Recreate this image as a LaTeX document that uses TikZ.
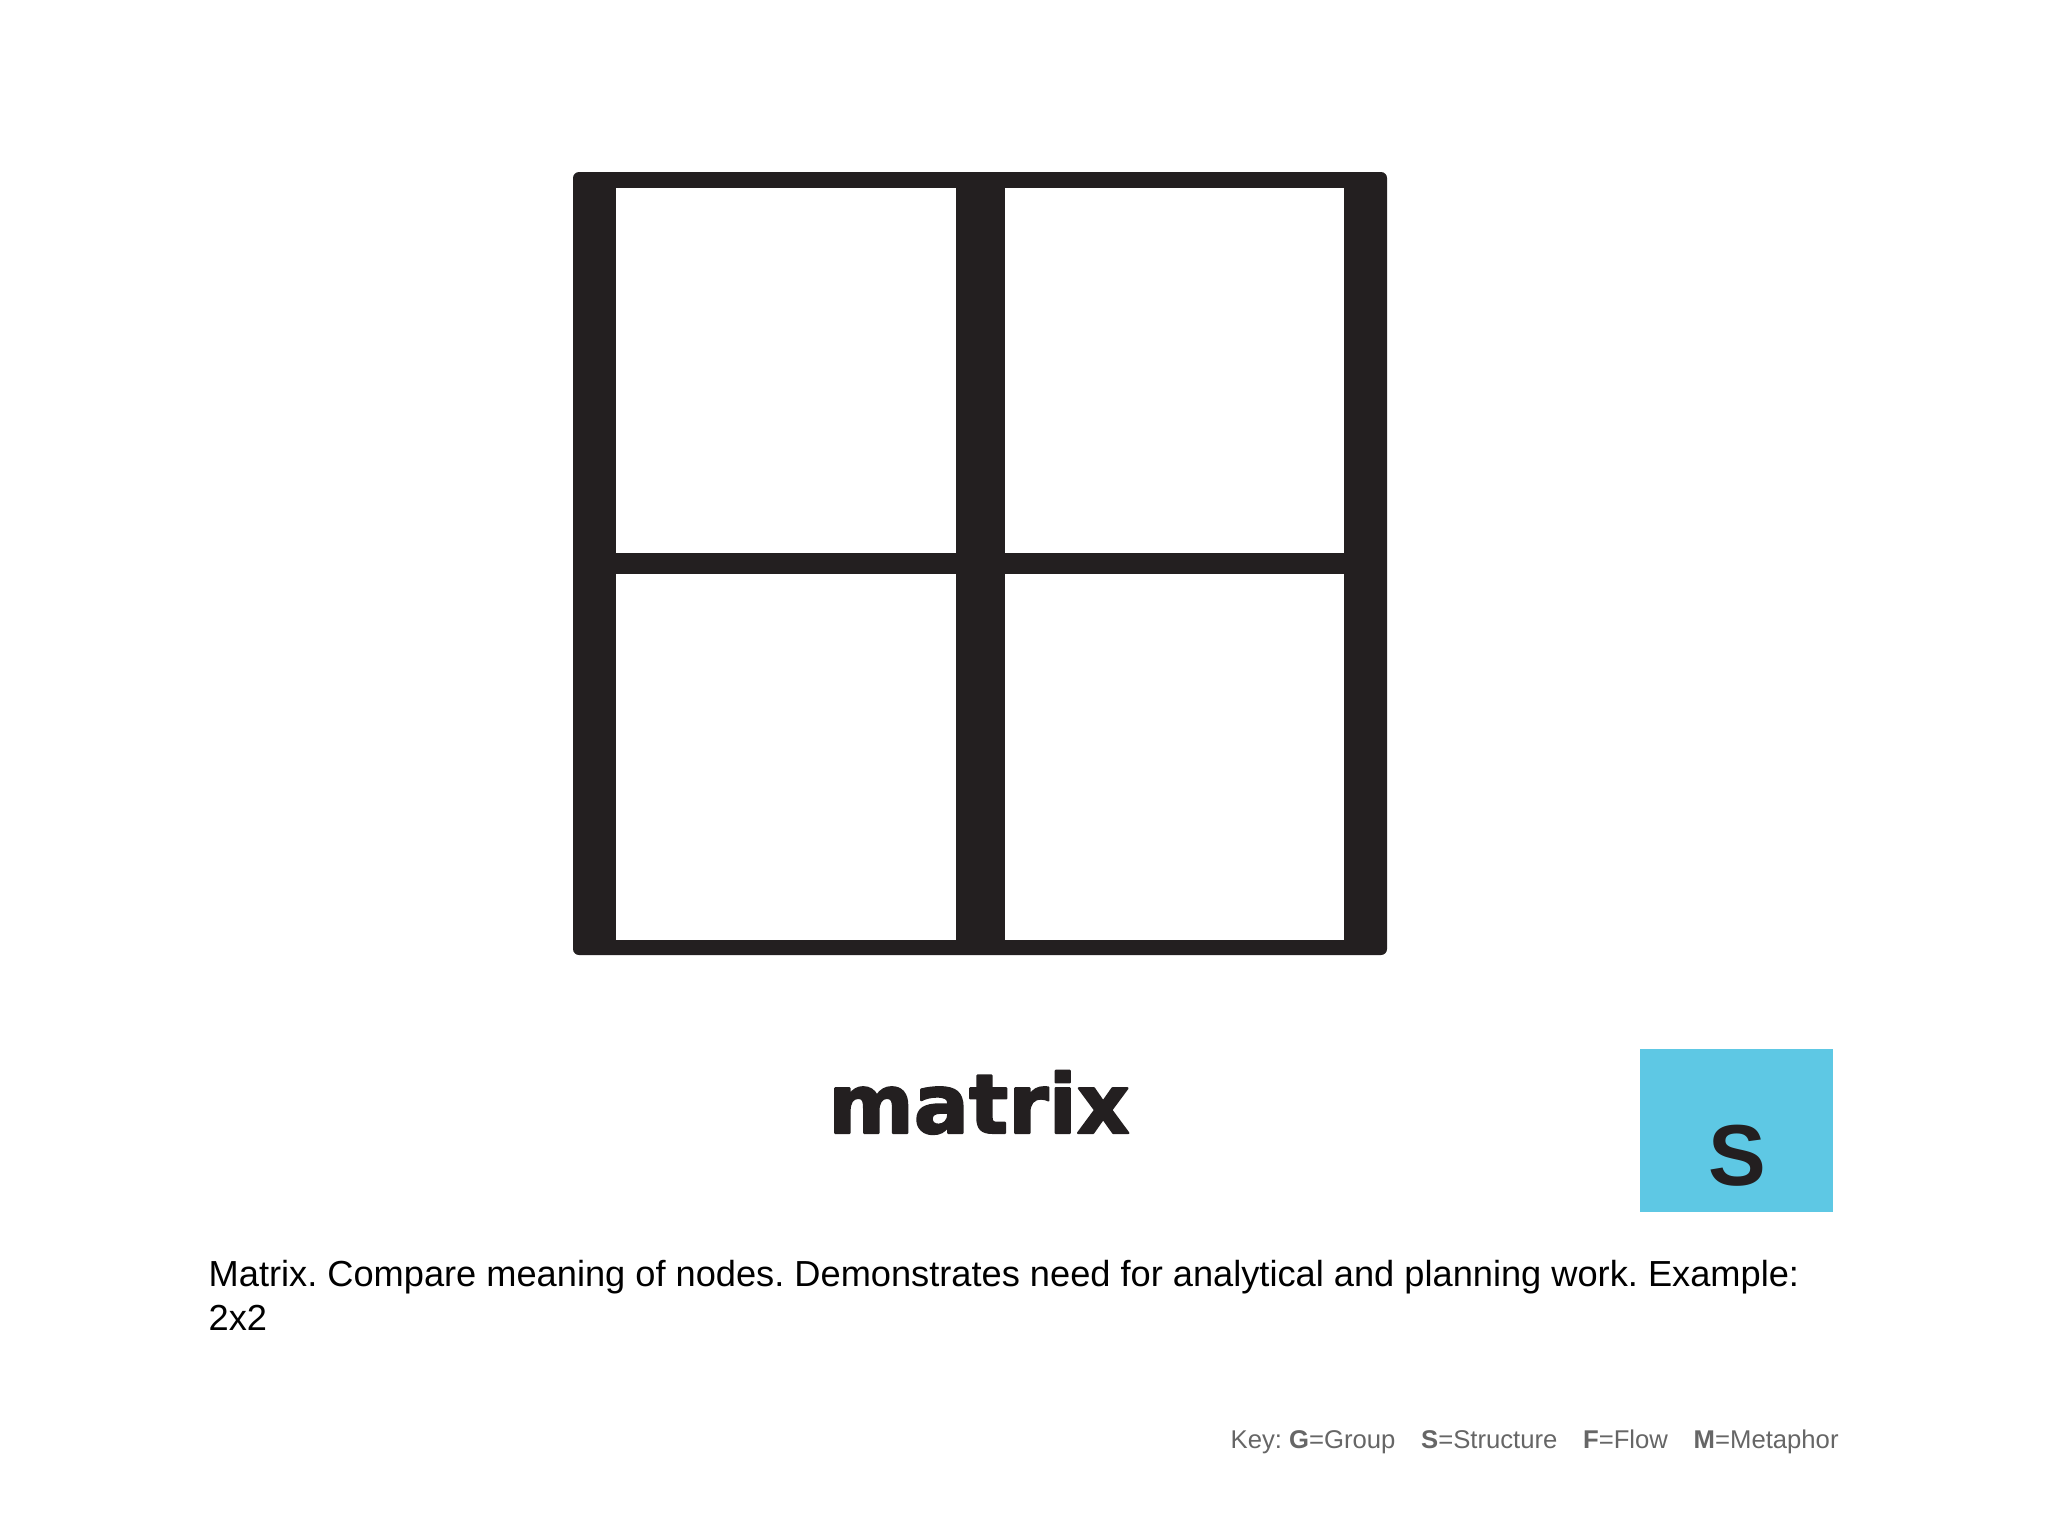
\documentclass[tikz,border=0pt]{standalone}
\usepackage{fontspec}
\setmainfont{Liberation Sans}
\newfontfamily\headfont[BoldFeatures={FakeBold=2.5}]{DejaVu Sans}
\definecolor{framecol}{HTML}{231F20}
\definecolor{structblue}{HTML}{5EC8E4}
\definecolor{keygray}{HTML}{666666}
\frenchspacing
\tikzset{
	cell/.style={fill=white,inner sep=0pt,minimum width=3.40cm,minimum height=3.65cm},
	caption/.style={anchor=base west,inner sep=0pt,font=\fontsize{10.3}{12}\selectfont}
}
\begin{document}
\begin{tikzpicture}[
	x=0.01cm,
	y=-0.01cm,
	line join=round
	]
	\useasboundingbox (0,0) rectangle (2048,1536);
	\fill[white] (0,0) rectangle (2048,1536);
	\fill[framecol,rounded corners=0.06cm] (573,172) rectangle (1387,955);
	\begin{scope}[every node/.style={cell}]
		\node (tl) at (786,370.5) {};
		\node[minimum width=3.39cm] (tr) at (1174.5,370.5) {};
		\node[minimum height=3.66cm] (bl) at (786,757) {};
		\node[minimum width=3.39cm,minimum height=3.66cm] (br) at (1174.5,757) {};
	\end{scope}
	\node[anchor=base,inner sep=0pt,text=framecol,font=\headfont\bfseries\fontsize{23.3}{28}\selectfont] (title) at (979,1133) {matrix};
	\node[fill=structblue,inner sep=0pt,minimum width=1.93cm,minimum height=1.63cm] (sbox) at (1736.5,1130.5) {};
	\node[anchor=base,inner sep=0pt,text=framecol,font=\bfseries\fontsize{24.6}{30}\selectfont] (sletter) at (1737,1185) {S};
	\node[caption] (desc) at (208,1286) {Matrix. Compare meaning of nodes. Demonstrates need for analytical and planning work. Example:};
	\node[caption] (desc2) at (208,1330) {2x2};
	\node[anchor=base west,inner sep=0pt,text=keygray,font=\fontsize{7.3}{9}\selectfont] (key) at (1230,1448)
		{Key: \textbf{G}=Group\quad \textbf{S}=Structure\quad \textbf{F}=Flow\quad \textbf{M}=Metaphor};
\end{tikzpicture}
\end{document}
